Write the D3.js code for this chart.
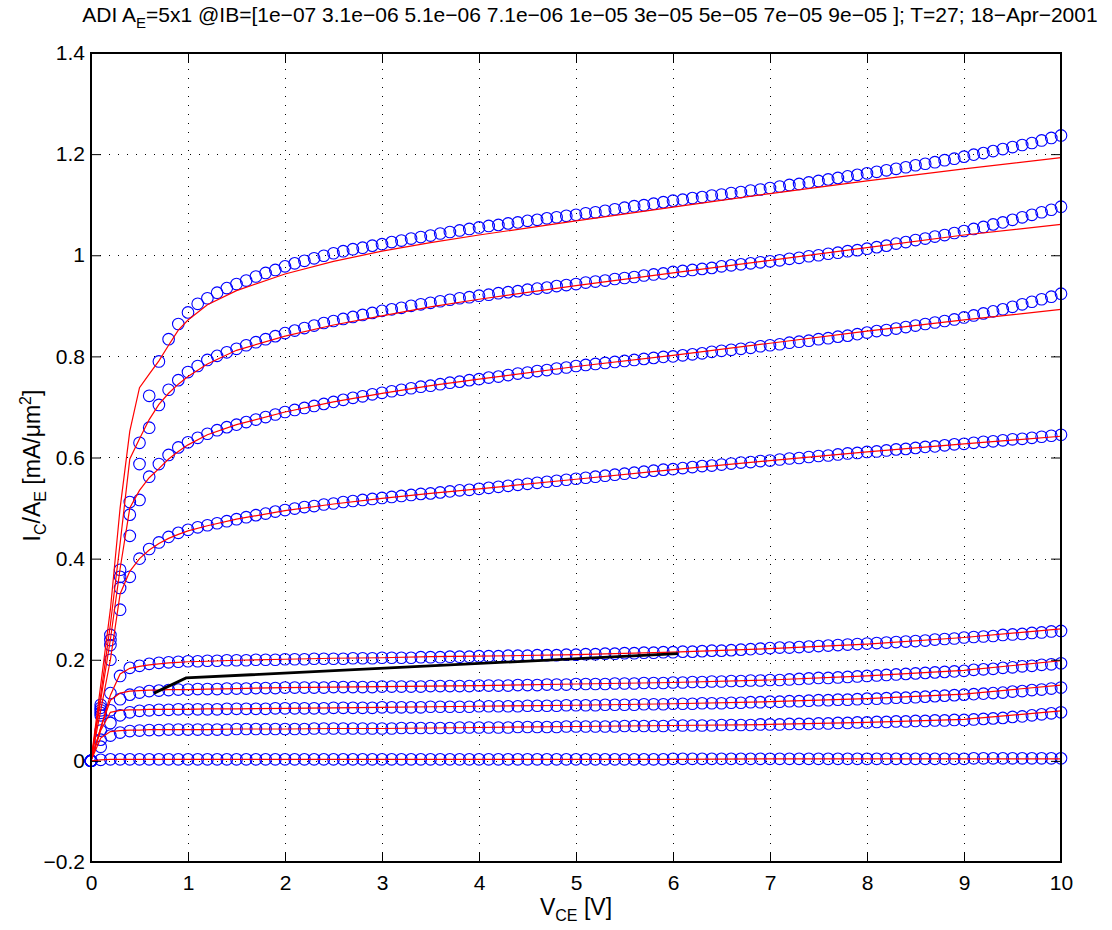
<!DOCTYPE html>
<html>
<head>
<meta charset="utf-8">
<script src="https://cdn.jsdelivr.net/npm/d3@7/dist/d3.min.js"></script>
<style>
  html, body { margin: 0; padding: 0; background: #fff; }
  svg text { font-family: "Liberation Sans", Arial, Helvetica, sans-serif; fill: #000; }
</style>
</head>
<body>
<svg id="chart" width="1112" height="930"></svg>
<script>
// ---------------- data ----------------
const titleParts = ["ADI A", "E", "=5x1 @IB=[1e\u221207 3.1e\u221206 5.1e\u221206 7.1e\u221206 1e\u221205 3e\u221205 5e\u221205 7e\u221205 9e\u221205 ]; T=27; 18\u2212Apr\u22122001"];
const xTicks = [0,1,2,3,4,5,6,7,8,9,10];
const yTicks = [-0.2,0,0.2,0.4,0.6,0.8,1,1.2,1.4];
const yTickLabels = ["\u22120.2","0","0.2","0.4","0.6","0.8","1","1.2","1.4"];
const ibLabels = ["1e-07","3.1e-06","5.1e-06","7.1e-06","1e-05","3e-05","5e-05","7e-05","9e-05"];

// measured V_CE sweep [V]
const vce = [
 0,0.1,0.2,0.3,0.4,0.5,0.6,0.7,0.8,0.9,
 1,1.1,1.2,1.3,1.4,1.5,1.6,1.7,1.8,1.9,
 2,2.1,2.2,2.3,2.4,2.5,2.6,2.7,2.8,2.9,
 3,3.1,3.2,3.3,3.4,3.5,3.6,3.7,3.8,3.9,
 4,4.1,4.2,4.3,4.4,4.5,4.6,4.7,4.8,4.9,
 5,5.1,5.2,5.3,5.4,5.5,5.6,5.7,5.8,5.9,
 6,6.1,6.2,6.3,6.4,6.5,6.6,6.7,6.8,6.9,
 7,7.1,7.2,7.3,7.4,7.5,7.6,7.7,7.8,7.9,
 8,8.1,8.2,8.3,8.4,8.5,8.6,8.7,8.8,8.9,
 9,9.1,9.2,9.3,9.4,9.5,9.6,9.7,9.8,9.9,10];

// measured IC/AE [mA/um^2], one array per IB
const meas1 = [
 0,.002,.003,.003,.003,.003,.003,.003,.003,.003,
 .003,.003,.003,.003,.003,.003,.003,.003,.003,.003,
 .003,.003,.003,.003,.003,.003,.003,.003,.003,.003,
 .003,.003,.003,.003,.003,.003,.003,.003,.003,.003,
 .003,.003,.003,.003,.003,.003,.003,.003,.003,.003,
 .003,.003,.003,.003,.003,.003,.003,.003,.003,.003,
 .004,.004,.004,.004,.004,.004,.004,.004,.004,.004,
 .004,.004,.004,.004,.004,.004,.004,.004,.004,.004,
 .004,.004,.004,.004,.004,.004,.004,.004,.004,.004,
 .004,.005,.005,.005,.005,.005,.005,.005,.005,.005,.005];
const meas2 = [
 0,.028,.050,.056,.059,.060,.061,.061,.062,.062,
 .062,.062,.062,.062,.062,.063,.063,.063,.063,.063,
 .063,.063,.063,.064,.064,.064,.064,.064,.064,.064,
 .064,.064,.065,.065,.065,.065,.065,.065,.066,.066,
 .066,.066,.066,.066,.067,.067,.067,.067,.067,.068,
 .068,.068,.068,.068,.068,.069,.069,.069,.069,.069,
 .070,.070,.070,.070,.070,.071,.071,.071,.071,.072,
 .072,.072,.073,.073,.073,.074,.074,.075,.075,.076,
 .076,.077,.077,.078,.078,.079,.079,.080,.080,.081,
 .081,.082,.083,.084,.085,.087,.088,.090,.092,.094,.096];
const meas3 = [
 0,.042,.075,.090,.096,.099,.100,.101,.101,.102,
 .102,.102,.102,.102,.103,.103,.103,.103,.103,.104,
 .104,.104,.104,.104,.104,.105,.105,.105,.105,.105,
 .106,.106,.106,.106,.106,.107,.107,.107,.107,.107,
 .108,.108,.108,.108,.108,.109,.109,.109,.109,.110,
 .110,.110,.110,.111,.111,.111,.111,.112,.112,.112,
 .113,.113,.113,.114,.114,.114,.115,.115,.116,.116,
 .117,.117,.118,.118,.119,.120,.120,.121,.121,.122,
 .123,.123,.124,.125,.125,.126,.127,.128,.129,.130,
 .131,.132,.133,.134,.135,.137,.138,.140,.141,.143,.145];
const meas4 = [
 0,.060,.100,.122,.131,.135,.138,.139,.140,.141,
 .141,.142,.142,.142,.143,.143,.143,.144,.144,.144,
 .145,.145,.145,.145,.145,.146,.146,.146,.146,.146,
 .147,.147,.147,.147,.147,.148,.148,.148,.148,.148,
 .149,.149,.149,.149,.150,.150,.150,.151,.151,.151,
 .152,.152,.152,.152,.153,.153,.153,.154,.154,.154,
 .155,.155,.156,.156,.157,.157,.158,.158,.159,.159,
 .160,.160,.161,.162,.163,.164,.164,.165,.166,.167,
 .168,.169,.170,.171,.172,.173,.174,.175,.176,.177,
 .178,.180,.181,.182,.184,.185,.187,.188,.190,.191,.193];
const meas5 = [
 0,.090,.134,.168,.184,.188,.192,.194,.195,.196,
 .197,.197,.198,.198,.199,.199,.199,.200,.200,.200,
 .201,.201,.201,.202,.202,.202,.202,.203,.203,.203,
 .204,.204,.204,.204,.205,.205,.205,.206,.206,.206,
 .207,.207,.207,.208,.208,.208,.209,.209,.209,.210,
 .210,.211,.211,.212,.212,.213,.213,.214,.214,.215,
 .215,.216,.216,.217,.218,.218,.219,.220,.221,.222,
 .223,.224,.224,.225,.226,.227,.228,.229,.230,.231,
 .232,.233,.234,.235,.236,.237,.238,.240,.241,.242,
 .244,.245,.246,.247,.249,.250,.251,.253,.254,.256,.257];
const meas6 = [
 0,.095,.200,.299,.364,.400,.419,.432,.443,.451,
 .457,.462,.466,.470,.474,.478,.482,.486,.489,.493,
 .496,.499,.502,.504,.507,.509,.512,.514,.516,.518,
 .520,.522,.524,.526,.528,.529,.531,.533,.535,.536,
 .538,.540,.542,.544,.546,.548,.550,.552,.554,.556,
 .558,.560,.562,.564,.566,.568,.570,.572,.574,.576,
 .577,.579,.581,.583,.584,.586,.588,.590,.591,.593,
 .594,.596,.598,.599,.601,.603,.604,.606,.608,.609,
 .611,.612,.614,.616,.617,.619,.621,.622,.624,.626,
 .627,.629,.631,.632,.634,.636,.637,.639,.641,.643,.645];
const meas7 = [
 0,.100,.229,.342,.445,.516,.562,.587,.605,.620,
 .630,.639,.647,.654,.660,.665,.670,.675,.680,.685,
 .690,.694,.698,.702,.706,.710,.714,.718,.721,.725,
 .728,.731,.734,.737,.740,.742,.745,.748,.750,.753,
 .755,.758,.760,.763,.766,.768,.771,.773,.776,.778,
 .781,.783,.785,.787,.789,.791,.793,.795,.797,.799,
 .800,.802,.804,.806,.809,.811,.813,.815,.817,.820,
 .822,.824,.827,.829,.831,.834,.836,.839,.841,.844,
 .847,.850,.852,.855,.858,.861,.864,.867,.870,.873,
 .877,.881,.885,.889,.893,.898,.903,.908,.913,.918,.924];
const meas8 = [
 0,.105,.239,.364,.487,.587,.659,.704,.734,.753,
 .769,.781,.793,.801,.808,.815,.822,.828,.834,.840,
 .846,.851,.856,.861,.866,.870,.874,.878,.882,.886,
 .890,.893,.896,.900,.903,.906,.909,.912,.915,.917,
 .920,.922,.925,.927,.929,.932,.934,.936,.939,.941,
 .943,.946,.948,.950,.953,.955,.957,.960,.962,.964,
 .967,.969,.971,.973,.975,.978,.980,.982,.984,.986,
 .988,.990,.993,.995,.998,1.000,1.003,1.005,1.008,1.010,
 1.013,1.016,1.019,1.023,1.026,1.030,1.033,1.037,1.040,1.044,
 1.048,1.052,1.056,1.061,1.065,1.070,1.075,1.080,1.085,1.090,1.096];
const meas9 = [
 0,.111,.249,.378,.512,.629,.722,.790,.834,.864,
 .887,.904,.915,.926,.935,.943,.950,.958,.965,.971,
 .978,.984,.989,.994,.999,1.004,1.008,1.012,1.015,1.019,
 1.022,1.026,1.029,1.033,1.036,1.039,1.043,1.046,1.049,1.052,
 1.055,1.058,1.060,1.063,1.065,1.068,1.070,1.073,1.075,1.078,
 1.080,1.083,1.085,1.088,1.091,1.094,1.097,1.099,1.102,1.105,
 1.108,1.110,1.113,1.115,1.118,1.120,1.123,1.125,1.128,1.130,
 1.133,1.136,1.139,1.141,1.144,1.147,1.150,1.153,1.156,1.159,
 1.162,1.165,1.168,1.171,1.174,1.178,1.181,1.184,1.188,1.191,
 1.195,1.199,1.202,1.206,1.210,1.214,1.218,1.222,1.227,1.232,1.237];

// simulated (model) curves, sampled at these V_CE points
const vceModel = [0,0.1,0.2,0.3,0.4,0.5,0.6,0.7,0.8,0.9,1,1.2,1.5,2,2.5,3,3.5,4,5,6,7,8,9,10];
const model1 = [0,.002,.003,.003,.003,.003,.003,.003,.003,.003,.003,.003,.003,.003,.003,.003,.003,.003,.003,.003,.004,.004,.004,.004];
const model2 = [0,.045,.058,.060,.061,.061,.062,.062,.062,.062,.062,.062,.063,.063,.064,.064,.065,.066,.068,.070,.072,.076,.082,.099];
const model3 = [0,.060,.096,.100,.101,.101,.102,.102,.102,.102,.102,.103,.103,.104,.105,.106,.107,.108,.110,.113,.117,.123,.132,.150];
const model4 = [0,.065,.120,.134,.138,.139,.140,.140,.141,.141,.141,.142,.143,.145,.146,.147,.148,.149,.152,.155,.160,.168,.179,.198];
const model5 = [0,.065,.130,.172,.183,.187,.190,.192,.194,.195,.196,.197,.199,.201,.203,.204,.206,.207,.210,.215,.222,.231,.244,.261];
const model6 = [0,.100,.200,.330,.375,.400,.417,.430,.440,.448,.455,.465,.478,.495,.508,.519,.529,.538,.557,.576,.594,.611,.627,.642];
const model7 = [0,.120,.240,.380,.500,.535,.560,.578,.597,.612,.625,.645,.665,.690,.710,.727,.742,.755,.780,.802,.826,.850,.872,.893];
const model8 = [0,.130,.270,.430,.597,.637,.675,.705,.727,.745,.760,.785,.812,.840,.862,.880,.898,.913,.940,.965,.990,1.015,1.040,1.061];
const model9 = [0,.150,.300,.500,.652,.738,.765,.791,.822,.852,.872,.902,.930,.963,.988,1.008,1.025,1.040,1.068,1.095,1.122,1.147,1.171,1.193];

// black reference line
const refV = [0.65, 0.98, 6.05];
const refI = [0.134, 0.164, 0.212];

// ---------------- drawing ----------------
const measured = [meas1,meas2,meas3,meas4,meas5,meas6,meas7,meas8,meas9];
const models = [model1,model2,model3,model4,model5,model6,model7,model8,model9];

const plot = {left: 91, right: 1061, top: 53, bottom: 862};
const FS = 21, FSsub = 15, FL = 23, FLsub = 16;
const svg = d3.select("#chart");

const x = d3.scaleLinear().domain([0, 10]).range([plot.left, plot.right]);
const y = d3.scaleLinear().domain([-0.2, 1.4]).range([plot.bottom, plot.top]);

// grid
const grid = svg.append("g").attr("stroke", "#000").attr("stroke-width", 1)
  .attr("stroke-dasharray", "1,8").attr("shape-rendering", "crispEdges");
grid.selectAll("line.gx").data(xTicks.filter(t => t > 0 && t < 10)).join("line")
  .attr("x1", d => Math.round(x(d)) + 0.5).attr("x2", d => Math.round(x(d)) + 0.5)
  .attr("y1", plot.bottom).attr("y2", plot.top);
grid.selectAll("line.gy").data(yTicks.filter(t => t > -0.2 && t < 1.4)).join("line")
  .attr("y1", d => Math.round(y(d)) + 0.5).attr("y2", d => Math.round(y(d)) + 0.5)
  .attr("x1", plot.left).attr("x2", plot.right);

// measured circles
const gMeas = svg.append("g");
measured.forEach((arr, k) => {
  gMeas.append("g").attr("class", "ib-" + ibLabels[k])
    .selectAll("circle").data(arr).join("circle")
    .attr("cx", (d, i) => x(vce[i]))
    .attr("cy", d => y(d))
    .attr("r", 5.8)
    .attr("fill", "none")
    .attr("stroke", "#0000ff")
    .attr("stroke-width", 1.1);
});

// model lines
const line = d3.line().x(d => x(d[0])).y(d => y(d[1]));
const gModel = svg.append("g");
models.forEach((arr, k) => {
  gModel.append("path")
    .datum(arr.map((v, i) => [vceModel[i], v]))
    .attr("d", line)
    .attr("fill", "none")
    .attr("stroke", "#ff0000")
    .attr("stroke-width", 1.2);
});

// black line
svg.append("path")
  .datum(refV.map((v, i) => [v, refI[i]]))
  .attr("d", line)
  .attr("fill", "none")
  .attr("stroke", "#000")
  .attr("stroke-width", 2.8);

// axes box
const axisG = svg.append("g").attr("shape-rendering", "crispEdges");
axisG.append("rect")
  .attr("x", plot.left).attr("y", plot.top)
  .attr("width", plot.right - plot.left).attr("height", plot.bottom - plot.top)
  .attr("fill", "none").attr("stroke", "#000").attr("stroke-width", 1.5);

const tl = 10;
const axB = d3.axisBottom(x).tickValues(xTicks).tickSizeInner(-tl).tickSizeOuter(0).tickPadding(13).tickFormat(d3.format("d"));
const axT = d3.axisTop(x).tickValues(xTicks).tickSizeInner(-tl).tickSizeOuter(0).tickFormat("");
const axL = d3.axisLeft(y).tickValues(yTicks).tickSizeInner(-tl).tickSizeOuter(0).tickPadding(6)
  .tickFormat((d, i) => yTickLabels[i]);
const axR = d3.axisRight(y).tickValues(yTicks).tickSizeInner(-tl).tickSizeOuter(0).tickFormat("");

function styleAxis(g) {
  g.select(".domain").remove();
  g.selectAll(".tick line").attr("stroke", "#000").attr("stroke-width", 1);
  g.selectAll(".tick text").attr("font-size", FS).attr("fill", "#000")
    .attr("font-family", "'Liberation Sans', Arial, sans-serif");
}
svg.append("g").attr("transform", `translate(0,${plot.bottom})`).call(axB).call(styleAxis);
svg.append("g").attr("transform", `translate(0,${plot.top})`).call(axT).call(styleAxis);
svg.append("g").attr("transform", `translate(${plot.left},0)`).call(axL).call(styleAxis);
svg.append("g").attr("transform", `translate(${plot.right},0)`).call(axR).call(styleAxis);

// title
const title = svg.append("text").attr("x", (plot.left + plot.right) / 2 + 14).attr("y", 22)
  .attr("text-anchor", "middle").attr("font-size", FS);
title.append("tspan").text(titleParts[0]);
title.append("tspan").attr("font-size", FSsub).attr("dy", 6).text(titleParts[1]);
title.append("tspan").attr("dy", -6).text(titleParts[2]);

// x label
const xl = svg.append("text").attr("x", (plot.left + plot.right) / 2).attr("y", 915)
  .attr("text-anchor", "middle").attr("font-size", FL);
xl.append("tspan").text("V");
xl.append("tspan").attr("font-size", FLsub).attr("dy", 6).text("CE");
xl.append("tspan").attr("dy", -6).text(" [V]");

// y label
const yl = svg.append("text")
  .attr("transform", `translate(40,${(plot.top + plot.bottom) / 2 + 8}) rotate(-90)`)
  .attr("text-anchor", "middle").attr("font-size", FL);
yl.append("tspan").text("I");
yl.append("tspan").attr("font-size", FLsub).attr("dy", 6).text("C");
yl.append("tspan").attr("dy", -6).text("/A");
yl.append("tspan").attr("font-size", FLsub).attr("dy", 6).text("E");
yl.append("tspan").attr("dy", -6).text(" [mA/\u03bcm");
yl.append("tspan").attr("font-size", FLsub).attr("dy", -9).text("2");
yl.append("tspan").attr("dy", 9).text("]");
</script>
</body>
</html>
